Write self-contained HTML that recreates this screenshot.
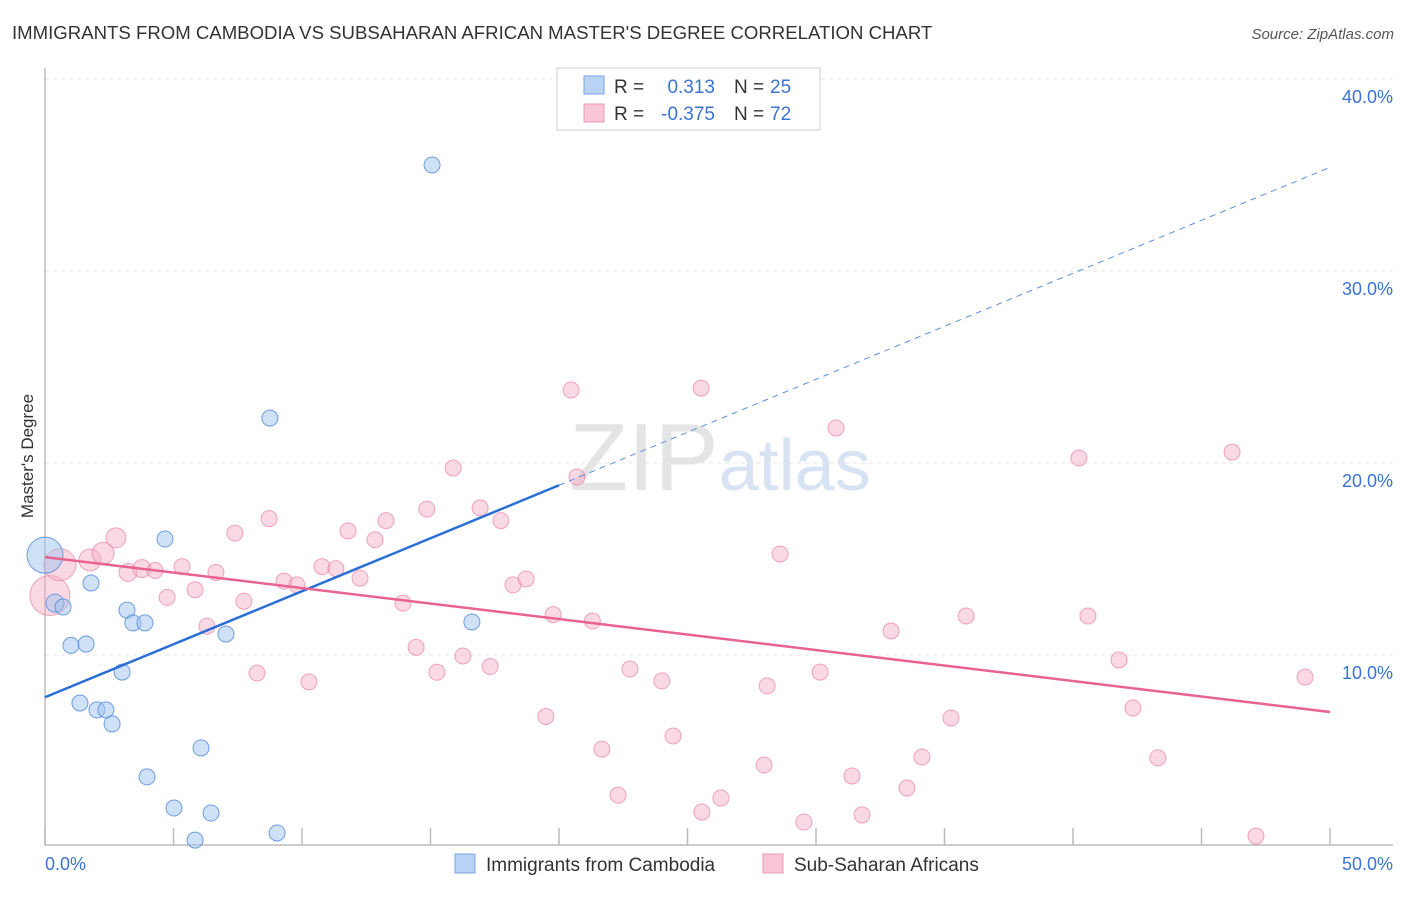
<!DOCTYPE html>
<html><head><meta charset="utf-8"><style>
body{margin:0;background:#fff;font-family:"Liberation Sans",sans-serif;}
svg text{font-family:"Liberation Sans",sans-serif;}
</style></head><body>
<svg id="chart" width="1406" height="892" xmlns="http://www.w3.org/2000/svg">
<text x="12" y="39" font-size="18.6" fill="#333">IMMIGRANTS FROM CAMBODIA VS SUBSAHARAN AFRICAN MASTER'S DEGREE CORRELATION CHART</text>
<text x="1394" y="39" font-size="15" fill="#555" text-anchor="end" font-style="italic">Source: ZipAtlas.com</text>
<text x="720" y="490" font-size="96" fill="#e4e4e4" text-anchor="middle" font-family="Liberation Serif"><tspan>ZIP</tspan><tspan fill="#d7e3f3" font-family="Liberation Sans" font-size="72">atlas</tspan></text>
<g id="grid"></g>
<g id="axes"></g>
<g id="marks"></g>
<text transform="translate(33,456) rotate(-90)" font-size="17" fill="#333" text-anchor="middle">Master's Degree</text>
<text x="45" y="870" font-size="18" fill="#3b73d1">0.0%</text>
<text x="1393" y="870" font-size="18" fill="#3b73d1" text-anchor="end">50.0%</text>
<g>
<rect x="557" y="68" width="263" height="62" fill="#fff" stroke="#ccc"/>
<rect x="584" y="76" width="20" height="18" fill="#b9d3f5" stroke="#7aa6e0"/>
<rect x="584" y="104" width="20" height="18" fill="#f9c6d5" stroke="#eb9ab3"/>
<text x="614" y="93" font-size="19" fill="#333">R =</text>
<text x="715" y="93" font-size="19" fill="#3b73d1" text-anchor="end">0.313</text>
<text x="734" y="93" font-size="19" fill="#333">N =</text>
<text x="770" y="93" font-size="19" fill="#3b73d1">25</text>
<text x="614" y="120" font-size="19" fill="#333">R =</text>
<text x="715" y="120" font-size="19" fill="#3b73d1" text-anchor="end">-0.375</text>
<text x="734" y="120" font-size="19" fill="#333">N =</text>
<text x="770" y="120" font-size="19" fill="#3b73d1">72</text>
</g>
<g>
<rect x="455" y="854" width="20" height="19" fill="#b9d3f5" stroke="#7aa6e0"/>
<text x="486" y="871" font-size="19" fill="#333">Immigrants from Cambodia</text>
<rect x="763" y="854" width="20" height="19" fill="#f9c6d5" stroke="#eb9ab3"/>
<text x="794" y="871" font-size="19" fill="#333">Sub-Saharan Africans</text>
</g>
</svg>
<script>
const yTicks=[10,20,30,40];
const yTickLabels=["10.0%","20.0%","30.0%","40.0%"];
const xTicks=[0,5,10,15,20,25,30,35,40,45,50];
const blueX=[0,0.39,0.70,1.79,1.01,1.60,4.67,3.19,3.42,3.89,7.04,3.0,1.36,2.02,2.37,2.61,6.07,3.97,5.02,6.46,5.84,9.03,8.75,15.06,16.61];
const blueY=[15.2,12.7,12.5,13.75,10.5,10.57,16.04,12.34,11.67,11.67,11.09,9.11,7.5,7.14,7.14,6.41,5.16,3.65,2.03,1.77,0.36,0.73,22.34,35.52,11.72];
const blueR=[18,9,8,8,8,8,8,8,8,8,8,8,8,8,8,8,8,8,8,8,8,8,8,8,8];
const pinkX=[0.19,0.58,1.75,2.26,2.76,3.23,3.77,4.28,4.75,5.33,5.84,6.3,6.65,7.39,7.74,8.25,8.72,9.3,9.8,10.27,10.78,11.32,11.79,12.26,12.84,13.27,13.93,14.44,14.86,15.25,15.88,16.26,16.93,17.32,17.74,18.21,18.72,19.49,19.77,20.47,20.7,21.3,21.67,22.3,22.76,24.0,24.44,25.53,25.56,26.3,27.98,28.1,28.6,29.53,30.16,30.78,31.4,31.79,32.92,33.54,34.12,35.25,35.84,40.23,40.58,41.79,42.33,43.3,46.19,47.12,49.03];
const pinkY=[13.1,14.7,14.95,15.3,16.1,14.3,14.5,14.4,13.0,14.6,13.4,11.5,14.3,16.35,12.8,9.06,17.1,13.85,13.65,8.6,14.6,14.5,16.46,14.0,16.0,17.0,12.7,10.4,17.6,9.1,19.74,9.95,17.66,9.4,17.0,13.65,13.96,6.8,12.1,23.8,19.27,11.77,5.1,2.7,9.27,8.65,5.78,23.9,1.82,2.55,4.27,8.39,15.26,1.3,9.11,21.82,3.7,1.67,11.25,3.07,4.69,6.72,12.03,20.26,12.03,9.74,7.24,4.64,20.57,0.57,8.85];
const pinkR=[20,16,11,11,10,9,9,8,8,8,8,8,8,8,8,8,8,8,8,8,8,8,8,8,8,8,8,8,8,8,8,8,8,8,8,8,8,8,8,8,8,8,8,8,8,8,8,8,8,8,8,8,8,8,8,8,8,8,8,8,8,8,8,8,8,8,8,8,8,8,8];
const blueTrend=[7.8,35.4];
const blueSolidEnd=20;
const pinkTrend=[15.1,7.03];
const NS='http://www.w3.org/2000/svg';
const X=v=>45+v*25.7, Y=v=>847-v*19.2;
function mk(tag,attrs,parent){const e=document.createElementNS(NS,tag);for(const k in attrs)e.setAttribute(k,attrs[k]);parent.appendChild(e);return e;}
const grid=document.getElementById('grid'),axes=document.getElementById('axes'),marks=document.getElementById('marks');
yTicks.forEach((t,i)=>{
 const l=mk('line',{x1:45,x2:1393,y1:Y(t),y2:Y(t),stroke:'#e6e6e6','stroke-dasharray':'4,4'},grid);
 
 
 const tx=mk('text',{x:1393,y:Y(t)+24,'font-size':18,fill:'#3b73d1','text-anchor':'end'},grid);
 tx.textContent=yTickLabels[i];
 
 
});
const ax=mk('path',{d:'M45,68V845H1393',fill:'none',stroke:'#bbb','stroke-width':1.5},axes);


xTicks.forEach(t=>{
 const l=mk('line',{x1:X(t),x2:X(t),y1:828,y2:845,stroke:'#bbb','stroke-width':1.5},axes);
 
 
});
pinkX.forEach((x,i)=>{
 const c=mk('circle',{cx:X(x),cy:Y(pinkY[i]),r:pinkR[i],fill:'rgba(246,170,195,0.45)',stroke:'rgba(232,130,165,0.7)','stroke-width':1},marks);
 
 
});
blueX.forEach((x,i)=>{
 const c=mk('circle',{cx:X(x),cy:Y(blueY[i]),r:blueR[i],fill:'rgba(160,195,240,0.5)',stroke:'rgba(70,130,215,0.75)','stroke-width':1},marks);
 
 
});
const by=x=>blueTrend[0]+(blueTrend[1]-blueTrend[0])*x/50;
const bl=mk('line',{x1:X(0),y1:Y(by(0)),x2:X(blueSolidEnd),y2:Y(by(blueSolidEnd)),stroke:'#2a6fd6','stroke-width':2.5},marks);


const bd=mk('line',{x1:X(blueSolidEnd),y1:Y(by(blueSolidEnd)),x2:X(50),y2:Y(by(50)),stroke:'#5b8fdc','stroke-width':1,'stroke-dasharray':'6,5'},marks);


const pl=mk('line',{x1:X(0),y1:Y(pinkTrend[0]),x2:X(50),y2:Y(pinkTrend[1]),stroke:'#e8638f','stroke-width':2.5},marks);


</script>
</body></html>
